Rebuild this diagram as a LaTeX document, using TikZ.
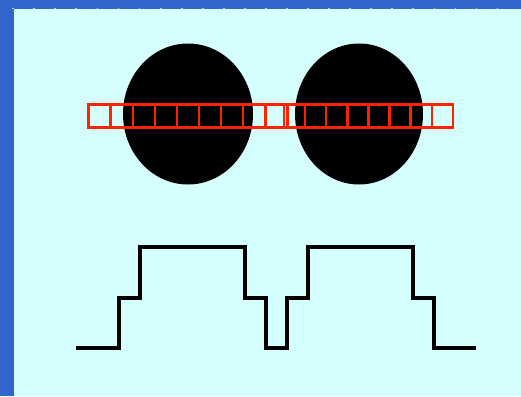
\documentclass[tikz,border=0pt]{standalone}
\usetikzlibrary{calc}
\definecolor{frameblue}{HTML}{3366CC}
\definecolor{paper}{HTML}{D5FFFF}
\definecolor{tickgray}{HTML}{C8C8C8}
\definecolor{boxred}{HTML}{FF2200}
\tikzset{
  sqbox/.style={draw=boxred, line width=2.4pt},
  wave/.style={draw=black, line width=4.2pt, line join=miter, line cap=butt},
  blob/.style={fill=black},
}
\begin{document}
\begin{tikzpicture}[x=1pt,y=-1pt]
\useasboundingbox (0,0) rectangle (521,396);
\fill[frameblue] (0,0) rectangle (521,396);
\fill[paper] (14,9) rectangle (521,396);
\foreach \i in {0,...,23} {
  \fill[tickgray] ({12.3+21.06*\i},7.8) rectangle ({14.1+21.06*\i},9.2);
}
% two dark ellipses
\fill[blob] (188,114) ellipse [x radius=65, y radius=70.5];
\fill[blob] (359,114) ellipse [x radius=64, y radius=70.5];
% row of red squares
\foreach \i in {0,...,8} {
  \draw[sqbox] ({88.5+22.1*\i},104.5) rectangle ({88.5+22.1*(\i+1)},127.5);
}
\foreach \i in {0,...,7} {
  \draw[sqbox] ({284+21.1*\i},104.5) rectangle ({284+21.1*(\i+1)},127.5);
}
% waveform
\coordinate (w0) at (76,348);
\coordinate (w1) at (476,348);
\draw[wave] (w0) -- (119,348) -- (119,298) -- (140,298) -- (140,247) -- (245,247)
  -- (245,298) -- (266,298) -- (266,348) -- (287,348) -- (287,298) -- (308,298)
  -- (308,247) -- (413,247) -- (413,298) -- (434,298) -- (434,348) -- (w1);
\end{tikzpicture}
\end{document}
